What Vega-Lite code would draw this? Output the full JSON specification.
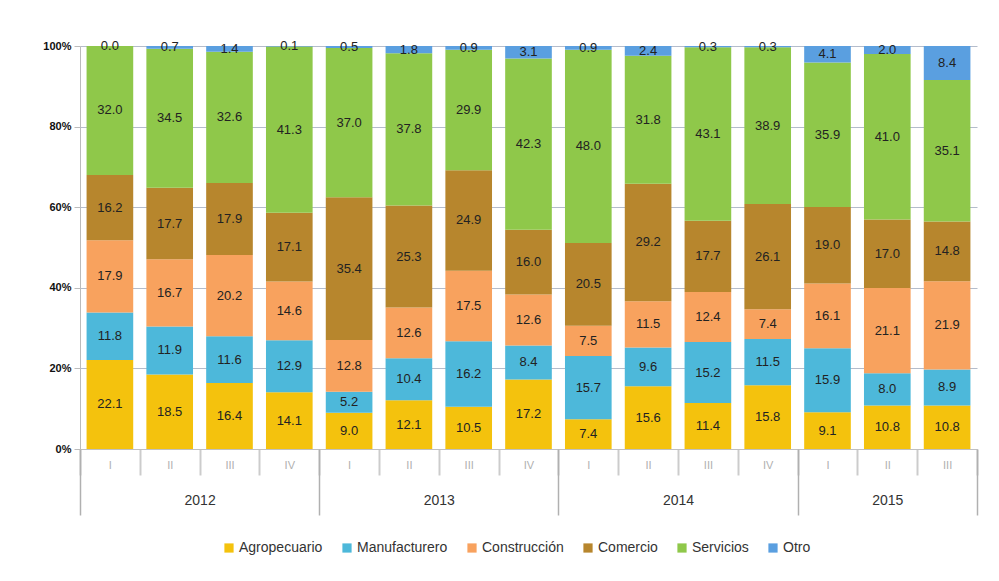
{
  "$schema": "https://vega.github.io/schema/vega-lite/v6.json",
  "width": 897,
  "height": 403,
  "padding": {"left": 42, "top": 40, "right": 10, "bottom": 5},
  "config": {"font": "Liberation Sans", "view": {"stroke": null}},
  "data": {"values": [
    {"periodo":"2012-I","sector":"Agropecuario","valor":22.1},{"periodo":"2012-I","sector":"Manufacturero","valor":11.8},{"periodo":"2012-I","sector":"Construcción","valor":17.9},{"periodo":"2012-I","sector":"Comercio","valor":16.2},{"periodo":"2012-I","sector":"Servicios","valor":32.0},{"periodo":"2012-I","sector":"Otro","valor":0.0},
    {"periodo":"2012-II","sector":"Agropecuario","valor":18.5},{"periodo":"2012-II","sector":"Manufacturero","valor":11.9},{"periodo":"2012-II","sector":"Construcción","valor":16.7},{"periodo":"2012-II","sector":"Comercio","valor":17.7},{"periodo":"2012-II","sector":"Servicios","valor":34.5},{"periodo":"2012-II","sector":"Otro","valor":0.7},
    {"periodo":"2012-III","sector":"Agropecuario","valor":16.4},{"periodo":"2012-III","sector":"Manufacturero","valor":11.6},{"periodo":"2012-III","sector":"Construcción","valor":20.2},{"periodo":"2012-III","sector":"Comercio","valor":17.9},{"periodo":"2012-III","sector":"Servicios","valor":32.6},{"periodo":"2012-III","sector":"Otro","valor":1.4},
    {"periodo":"2012-IV","sector":"Agropecuario","valor":14.1},{"periodo":"2012-IV","sector":"Manufacturero","valor":12.9},{"periodo":"2012-IV","sector":"Construcción","valor":14.6},{"periodo":"2012-IV","sector":"Comercio","valor":17.1},{"periodo":"2012-IV","sector":"Servicios","valor":41.3},{"periodo":"2012-IV","sector":"Otro","valor":0.1},
    {"periodo":"2013-I","sector":"Agropecuario","valor":9.0},{"periodo":"2013-I","sector":"Manufacturero","valor":5.2},{"periodo":"2013-I","sector":"Construcción","valor":12.8},{"periodo":"2013-I","sector":"Comercio","valor":35.4},{"periodo":"2013-I","sector":"Servicios","valor":37.0},{"periodo":"2013-I","sector":"Otro","valor":0.5},
    {"periodo":"2013-II","sector":"Agropecuario","valor":12.1},{"periodo":"2013-II","sector":"Manufacturero","valor":10.4},{"periodo":"2013-II","sector":"Construcción","valor":12.6},{"periodo":"2013-II","sector":"Comercio","valor":25.3},{"periodo":"2013-II","sector":"Servicios","valor":37.8},{"periodo":"2013-II","sector":"Otro","valor":1.8},
    {"periodo":"2013-III","sector":"Agropecuario","valor":10.5},{"periodo":"2013-III","sector":"Manufacturero","valor":16.2},{"periodo":"2013-III","sector":"Construcción","valor":17.5},{"periodo":"2013-III","sector":"Comercio","valor":24.9},{"periodo":"2013-III","sector":"Servicios","valor":29.9},{"periodo":"2013-III","sector":"Otro","valor":0.9},
    {"periodo":"2013-IV","sector":"Agropecuario","valor":17.2},{"periodo":"2013-IV","sector":"Manufacturero","valor":8.4},{"periodo":"2013-IV","sector":"Construcción","valor":12.6},{"periodo":"2013-IV","sector":"Comercio","valor":16.0},{"periodo":"2013-IV","sector":"Servicios","valor":42.3},{"periodo":"2013-IV","sector":"Otro","valor":3.1},
    {"periodo":"2014-I","sector":"Agropecuario","valor":7.4},{"periodo":"2014-I","sector":"Manufacturero","valor":15.7},{"periodo":"2014-I","sector":"Construcción","valor":7.5},{"periodo":"2014-I","sector":"Comercio","valor":20.5},{"periodo":"2014-I","sector":"Servicios","valor":48.0},{"periodo":"2014-I","sector":"Otro","valor":0.9},
    {"periodo":"2014-II","sector":"Agropecuario","valor":15.6},{"periodo":"2014-II","sector":"Manufacturero","valor":9.6},{"periodo":"2014-II","sector":"Construcción","valor":11.5},{"periodo":"2014-II","sector":"Comercio","valor":29.2},{"periodo":"2014-II","sector":"Servicios","valor":31.8},{"periodo":"2014-II","sector":"Otro","valor":2.4},
    {"periodo":"2014-III","sector":"Agropecuario","valor":11.4},{"periodo":"2014-III","sector":"Manufacturero","valor":15.2},{"periodo":"2014-III","sector":"Construcción","valor":12.4},{"periodo":"2014-III","sector":"Comercio","valor":17.7},{"periodo":"2014-III","sector":"Servicios","valor":43.1},{"periodo":"2014-III","sector":"Otro","valor":0.3},
    {"periodo":"2014-IV","sector":"Agropecuario","valor":15.8},{"periodo":"2014-IV","sector":"Manufacturero","valor":11.5},{"periodo":"2014-IV","sector":"Construcción","valor":7.4},{"periodo":"2014-IV","sector":"Comercio","valor":26.1},{"periodo":"2014-IV","sector":"Servicios","valor":38.9},{"periodo":"2014-IV","sector":"Otro","valor":0.3},
    {"periodo":"2015-I","sector":"Agropecuario","valor":9.1},{"periodo":"2015-I","sector":"Manufacturero","valor":15.9},{"periodo":"2015-I","sector":"Construcción","valor":16.1},{"periodo":"2015-I","sector":"Comercio","valor":19.0},{"periodo":"2015-I","sector":"Servicios","valor":35.9},{"periodo":"2015-I","sector":"Otro","valor":4.1},
    {"periodo":"2015-II","sector":"Agropecuario","valor":10.8},{"periodo":"2015-II","sector":"Manufacturero","valor":8.0},{"periodo":"2015-II","sector":"Construcción","valor":21.1},{"periodo":"2015-II","sector":"Comercio","valor":17.0},{"periodo":"2015-II","sector":"Servicios","valor":41.0},{"periodo":"2015-II","sector":"Otro","valor":2.0},
    {"periodo":"2015-III","sector":"Agropecuario","valor":10.8},{"periodo":"2015-III","sector":"Manufacturero","valor":8.9},{"periodo":"2015-III","sector":"Construcción","valor":21.9},{"periodo":"2015-III","sector":"Comercio","valor":14.8},{"periodo":"2015-III","sector":"Servicios","valor":35.1},{"periodo":"2015-III","sector":"Otro","valor":8.4}
  ]},
  "transform": [
    {"calculate": "indexof(['Agropecuario','Manufacturero','Construcción','Comercio','Servicios','Otro'], datum.sector)", "as": "orden"},
    {"stack": "valor", "groupby": ["periodo"], "sort": [{"field": "orden", "order": "ascending"}], "offset": "normalize", "as": ["y0", "y1"]},
    {"calculate": "(datum.y0 + datum.y1) / 2", "as": "ymid"}
  ],
  "layer": [
    {
      "mark": {"type": "bar", "width": {"band": 0.78}},
      "encoding": {
        "x": {"field": "periodo", "type": "ordinal", "sort": null,
          "scale": {"paddingInner": 0, "paddingOuter": 0},
          "axis": {"title": null, "orient": "bottom", "offset": 0, "labelExpr": "split(datum.value, '-')[1]", "labelAngle": 0, "labelColor": "#b0b0b0", "labelFontSize": 11, "tickBand": "extent", "tickSize": 26, "tickColor": "#cccccc", "tickWidth": 2, "domainColor": "#c0c0c0", "labelPadding": -16}},
        "y": {"field": "y0", "type": "quantitative", "scale": {"domain": [0, 1]},
          "axis": {"title": null, "format": ".0%", "values": [0, 0.2, 0.4, 0.6, 0.8, 1], "labelFontWeight": "bold", "labelColor": "#111111", "labelFontSize": 11, "gridColor": "#b4bccb", "domainColor": "#bbbbbb", "tickColor": "#bbbbbb", "tickSize": 6, "labelPadding": 3}},
        "y2": {"field": "y1"},
        "color": {"field": "sector", "type": "nominal",
          "scale": {"domain": ["Agropecuario", "Manufacturero", "Construcción", "Comercio", "Servicios", "Otro"],
                    "range": ["#f4c20d", "#4db8da", "#f8a25e", "#b7862d", "#8fc84a", "#5a9fe0"]},
          "legend": {"orient": "none", "legendX": 142, "legendY": 495, "direction": "horizontal", "title": null, "symbolType": "square", "symbolSize": 85, "symbolStrokeWidth": 0, "symbolOffset": 0, "labelOffset": 3, "labelFontSize": 14, "labelColor": "#333333", "columnPadding": 17}}
      }
    },
    {
      "mark": {"type": "text", "fontSize": 13, "color": "#222222"},
      "encoding": {
        "x": {"field": "periodo", "type": "ordinal", "sort": null,
          "scale": {"paddingInner": 0, "paddingOuter": 0},
          "axis": {"title": null, "orient": "bottom", "offset": 0, "domain": false,
            "labelExpr": "indexof(['2012-II','2013-II','2014-II','2015-II'], datum.value) >= 0 ? split(datum.value, '-')[0] : ''",
            "labelAngle": 0, "labelColor": "#333333", "labelFontSize": 14, "labelOverlap": false,
            "tickBand": "extent", "tickSize": 66, "tickColor": "#b0b0b0", "tickWidth": 1.5,
            "tickOpacity": {"condition": {"test": "datum.extra || datum.value == '2012-IV' || datum.value == '2013-IV' || datum.value == '2014-IV' || datum.value == '2015-III'", "value": 1}, "value": 0},
            "labelPadding": -22,
            "labelOffset": {"condition": {"test": "datum.value == '2015-II'", "value": 0}, "value": 29.9}}},
        "y": {"field": "ymid", "type": "quantitative"},
        "text": {"field": "valor", "type": "quantitative", "format": ".1f"}
      }
    }
  ],
  "resolve": {"axis": {"x": "independent"}}
}
